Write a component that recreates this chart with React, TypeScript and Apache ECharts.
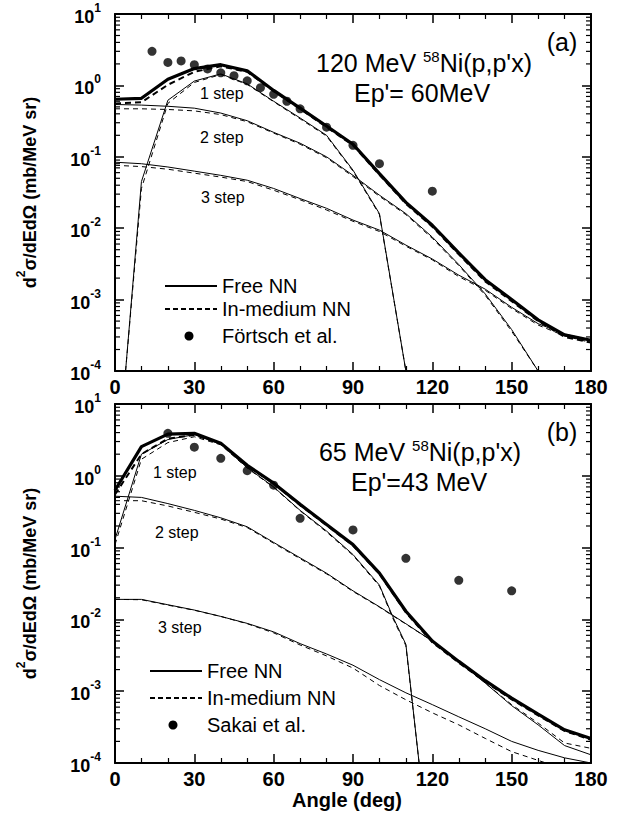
import React, { useEffect, useRef } from 'react';
import * as echarts from 'echarts';

const FONT = "'Liberation Sans', Arial, Helvetica, sans-serif";

// ---------- common ----------
const anglesFull = [0, 10, 20, 30, 40, 50, 60, 70, 80, 90, 100, 110, 120, 130, 140, 150, 160, 170, 180];
const xTickLabels = ['0', '30', '60', '90', '120', '150', '180'];
const minorMantissas = [2, 3, 4, 5, 6, 7, 8, 9];
const decades = [-4, -3, -2, -1, 0];

// ---------- panel (a): 120 MeV, Ep' = 60 MeV ----------
const totalFreeA = [0.64, 0.66, 1.22, 1.72, 1.95, 1.6, 0.85, 0.48, 0.27, 0.15, 0.058, 0.023, 0.011, 0.0045, 0.0019, 0.001, 0.00052, 0.00032, 0.00027];
const totalMedA = [0.56, 0.58, 1.02, 1.55, 1.85, 1.55, 0.83, 0.47, 0.26, 0.145, 0.056, 0.022, 0.0105, 0.0043, 0.0018, 0.00095, 0.0005, 0.0003, 0.00025];
const step1AnglesA = [4, 10, 20, 30, 40, 50, 60, 70, 80, 90, 100, 110];
const step1FreeA = [0.0001, 0.045, 0.62, 1.15, 1.45, 1.05, 0.6, 0.35, 0.2, 0.065, 0.016, 0.0001];
const step1MedA = [0.0001, 0.036, 0.56, 1.1, 1.42, 1.03, 0.59, 0.34, 0.195, 0.063, 0.0155, 0.0001];
const step2AnglesA = [0, 10, 20, 30, 40, 50, 60, 70, 80, 90, 100, 110, 120, 130, 140, 150, 160];
const step2FreeA = [0.54, 0.53, 0.51, 0.48, 0.41, 0.32, 0.22, 0.155, 0.1, 0.055, 0.029, 0.016, 0.0075, 0.0031, 0.0012, 0.00038, 0.0001];
const step2MedA = [0.47, 0.47, 0.46, 0.44, 0.39, 0.31, 0.215, 0.15, 0.097, 0.053, 0.028, 0.0155, 0.0072, 0.003, 0.00115, 0.00036, 0.0001];
const step3FreeA = [0.084, 0.08, 0.072, 0.063, 0.055, 0.047, 0.036, 0.026, 0.019, 0.013, 0.0094, 0.0058, 0.0037, 0.0022, 0.0014, 0.00078, 0.00046, 0.00033, 0.00027];
const step3MedA = [0.076, 0.073, 0.067, 0.059, 0.052, 0.045, 0.034, 0.025, 0.018, 0.0125, 0.009, 0.0056, 0.0036, 0.0021, 0.00135, 0.00075, 0.00044, 0.00031, 0.00025];
const fortschAngles = [14, 20, 25, 30, 35, 40, 45, 50, 55, 60, 65, 70, 80, 90, 100, 120];
const fortschValues = [3.0, 2.1, 2.2, 1.95, 1.7, 1.5, 1.37, 1.16, 0.93, 0.75, 0.6, 0.47, 0.26, 0.145, 0.08, 0.033];

// ---------- panel (b): 65 MeV, Ep' = 43 MeV ----------
const totalFreeB = [0.63, 2.55, 3.8, 3.9, 2.85, 1.4, 0.79, 0.4, 0.21, 0.11, 0.044, 0.013, 0.005, 0.0026, 0.0014, 0.0008, 0.00048, 0.00029, 0.00022];
const totalMedB = [0.55, 2.0, 3.3, 3.7, 2.8, 1.38, 0.78, 0.39, 0.205, 0.107, 0.043, 0.0125, 0.0048, 0.0025, 0.00135, 0.00077, 0.00046, 0.00028, 0.00021];
const step1AnglesB = [0, 10, 20, 30, 40, 50, 60, 70, 80, 90, 100, 105, 110, 115];
const step1FreeB = [0.13, 2.0, 3.2, 3.75, 2.75, 1.3, 0.7, 0.33, 0.17, 0.08, 0.03, 0.011, 0.0045, 0.0001];
const step1MedB = [0.11, 1.7, 2.9, 3.5, 2.7, 1.28, 0.69, 0.325, 0.165, 0.078, 0.029, 0.0105, 0.0043, 0.0001];
const step2FreeB = [0.52, 0.5, 0.41, 0.33, 0.26, 0.195, 0.118, 0.072, 0.044, 0.025, 0.015, 0.0087, 0.005, 0.0026, 0.0013, 0.00063, 0.00034, 0.000175, 0.00013];
const step2MedB = [0.45, 0.45, 0.38, 0.31, 0.25, 0.19, 0.115, 0.07, 0.043, 0.0245, 0.0148, 0.0086, 0.005, 0.0026, 0.0013, 0.00065, 0.00036, 0.00019, 0.00016];
const step3FreeB = [0.019, 0.019, 0.016, 0.0135, 0.011, 0.0088, 0.0067, 0.0046, 0.0033, 0.0023, 0.00145, 0.00095, 0.00065, 0.00044, 0.0003, 0.0002, 0.00015, 0.000118, 0.0001];
const step3MedAnglesB = [0, 10, 20, 30, 40, 50, 60, 70, 80, 90, 100, 110, 120, 130, 140, 150, 163];
const step3MedB = [0.019, 0.0188, 0.0158, 0.0134, 0.011, 0.0087, 0.0065, 0.0044, 0.0031, 0.0021, 0.0012, 0.00076, 0.0005, 0.00034, 0.00022, 0.000144, 0.0001];
const sakaiAngles = [20, 30, 40, 50, 60, 70, 90, 110, 130, 150];
const sakaiValues = [3.9, 2.5, 1.75, 1.18, 0.74, 0.256, 0.176, 0.071, 0.035, 0.025];

const pairs = (xs: number[], ys: number[]) => xs.map((x, i) => [x, ys[i]]);

const yRich = {
  b: { fontSize: 18, fontWeight: 'bold', fontFamily: FONT, color: '#000', lineHeight: 24, verticalAlign: 'bottom' },
  s: { fontSize: 12, fontWeight: 'bold', fontFamily: FONT, color: '#000', verticalAlign: 'top' },
};

const nameRich = {
  n: { fontSize: 18, fontWeight: 'bold', fontFamily: FONT, color: '#000', lineHeight: 24, verticalAlign: 'bottom' },
  s: { fontSize: 12, fontWeight: 'bold', fontFamily: FONT, color: '#000', verticalAlign: 'top' },
};

const titleRich = {
  n: { fontSize: 25, fontFamily: FONT, color: '#000', lineHeight: 27, verticalAlign: 'bottom' },
  s: { fontSize: 15, fontFamily: FONT, color: '#000', verticalAlign: 'top' },
};

function buildOption() {
  const grids = [
    { left: 115, top: 14, width: 476, height: 357 },
    { left: 115, top: 404, width: 476, height: 359 },
  ];

  const xAxes: any[] = [];
  const yAxes: any[] = [];
  [0, 1].forEach((g) => {
    const base = {
      gridIndex: g,
      type: 'value',
      min: 0,
      max: 180,
      interval: 30,
      axisLine: { show: true, onZero: false, lineStyle: { color: '#000', width: 2 } },
      axisTick: { show: true, inside: true, length: 9, lineStyle: { color: '#000', width: 1.5 } },
      minorTick: { show: true, splitNumber: 3, length: 5, lineStyle: { color: '#000', width: 1.2 } },
      splitLine: { show: false },
      minorSplitLine: { show: false },
    };
    xAxes.push({
      ...base,
      position: 'bottom',
      axisLabel: {
        show: true,
        margin: 6,
        fontSize: 20,
        fontWeight: 'bold',
        fontFamily: FONT,
        color: '#000',
        formatter: (v: number) => xTickLabels[Math.round(v / 30)] ?? String(v),
      },
      ...(g === 1
        ? {
            name: 'Angle (deg)',
            nameLocation: 'middle',
            nameGap: 27,
            nameTextStyle: { fontSize: 20, fontWeight: 'bold', fontFamily: FONT, color: '#000', padding: [0, 12, 0, 0] },
          }
        : {}),
    });
    xAxes.push({ ...base, position: 'top', axisLabel: { show: false } });

    const ybase = {
      gridIndex: g,
      type: 'log',
      logBase: 10,
      min: 0.0001,
      max: 10,
      axisLine: { show: true, onZero: false, lineStyle: { color: '#000', width: 2 } },
      axisTick: { show: true, inside: true, length: 9, lineStyle: { color: '#000', width: 1.5 } },
      minorTick: { show: false },
      splitLine: { show: false },
      minorSplitLine: { show: false },
    };
    yAxes.push({
      ...ybase,
      position: 'left',
      axisLabel: {
        show: true,
        margin: 14,
        formatter: (v: number) => `{b|10}{s|${Math.round(Math.log10(v))}}`,
        rich: yRich,
      },
      name: '{n|d}{s|2}{n|σ/dEdΩ (mb/MeV sr)}',
      nameLocation: 'middle',
      nameRotate: 90,
      nameGap: 76,
      nameTextStyle: { rich: nameRich },
    });
    yAxes.push({ ...ybase, position: 'right', axisLabel: { show: false } });
  });

  const minorData: number[][] = [];
  decades.forEach((e) => minorMantissas.forEach((m) => minorData.push([0, m * Math.pow(10, e)])));

  const minorTickSeries = (g: number) => ({
    type: 'custom',
    xAxisIndex: g * 2,
    yAxisIndex: g * 2,
    silent: true,
    clip: false,
    data: minorData,
    encode: { x: 0, y: 1 },
    renderItem: (_p: any, api: any) => {
      const v = api.value(1);
      const l = api.coord([0, v]);
      const r = api.coord([180, v]);
      return {
        type: 'group',
        children: [
          { type: 'line', shape: { x1: l[0], y1: l[1], x2: l[0] + 5, y2: l[1] }, style: { stroke: '#000', lineWidth: 1.2 } },
          { type: 'line', shape: { x1: r[0], y1: r[1], x2: r[0] - 5, y2: r[1] }, style: { stroke: '#000', lineWidth: 1.2 } },
        ],
      };
    },
  });

  const line = (name: string, g: number, xs: number[], ys: number[], width: number, dash: number[] | null) => ({
    type: 'line',
    name,
    xAxisIndex: g * 2,
    yAxisIndex: g * 2,
    data: pairs(xs, ys),
    symbol: 'none',
    silent: true,
    lineStyle: { color: '#000', width, type: dash ? dash : 'solid' },
    z: 3,
  });

  const dots = (name: string, g: number, xs: number[], ys: number[]) => ({
    type: 'scatter',
    name,
    xAxisIndex: g * 2,
    yAxisIndex: g * 2,
    data: pairs(xs, ys),
    symbol: 'circle',
    symbolSize: 9,
    itemStyle: { color: '#000' },
    silent: true,
    z: 5,
  });

  const thinDash = [5, 4];
  const thickDash = [6, 4];

  const series: any[] = [
    minorTickSeries(0),
    minorTickSeries(1),
    // panel a
    line('Free NN', 0, anglesFull, step3FreeA, 1, null),
    line('In-medium NN', 0, anglesFull, step3MedA, 1, thinDash),
    line('Free NN', 0, step2AnglesA, step2FreeA, 1, null),
    line('In-medium NN', 0, step2AnglesA, step2MedA, 1, thinDash),
    line('Free NN', 0, step1AnglesA, step1FreeA, 1, null),
    line('In-medium NN', 0, step1AnglesA, step1MedA, 1, thinDash),
    line('In-medium NN', 0, anglesFull, totalMedA, 2, thickDash),
    line('Free NN', 0, anglesFull, totalFreeA, 3.2, null),
    dots('Förtsch et al.', 0, fortschAngles, fortschValues),
    // panel b
    line('Free NN', 1, anglesFull, step3FreeB, 1, null),
    line('In-medium NN', 1, step3MedAnglesB, step3MedB, 1, thinDash),
    line('Free NN', 1, anglesFull, step2FreeB, 1, null),
    line('In-medium NN', 1, anglesFull, step2MedB, 1, thinDash),
    line('Free NN', 1, step1AnglesB, step1FreeB, 1, null),
    line('In-medium NN', 1, step1AnglesB, step1MedB, 1, thinDash),
    line('In-medium NN', 1, anglesFull, totalMedB, 2, thickDash),
    line('Free NN', 1, anglesFull, totalFreeB, 3.2, null),
    dots('Sakai et al.', 1, sakaiAngles, sakaiValues),
  ];

  const txt = (text: string, x: number, y: number, size: number, align = 'left', rich?: any) => ({
    type: 'text',
    x,
    y,
    silent: true,
    style: {
      text,
      fill: '#000',
      fontSize: size,
      fontFamily: FONT,
      align,
      textAlign: align,
      verticalAlign: 'middle',
      textVerticalAlign: 'middle',
      ...(rich ? { rich } : {}),
    },
  });

  const legendLine = (x1: number, x2: number, y: number, dash: number[] | null) => ({
    type: 'line',
    silent: true,
    shape: { x1, y1: y, x2, y2: y },
    style: { stroke: '#000', lineWidth: 2, lineDash: dash || undefined },
  });

  const legendDot = (cx: number, cy: number) => ({
    type: 'circle',
    silent: true,
    shape: { cx, cy, r: 4.5 },
    style: { fill: '#000' },
  });

  const graphic: any[] = [
    // panel a annotations
    txt("{n|120 MeV }{s|58}{n|Ni(p,p'x)}", 424, 62, 25, 'center', titleRich),
    txt("Ep'= 60MeV", 422, 93, 25, 'center'),
    txt('(a)', 562, 42, 25, 'center'),
    txt('1 step', 200, 93, 16),
    txt('2 step', 200, 137, 16),
    txt('3 step', 201, 197, 16),
    legendLine(165, 217, 286, null),
    legendLine(165, 217, 309, [5, 3]),
    legendDot(189, 336),
    txt('Free NN', 222, 286, 20),
    txt('In-medium NN', 222, 309, 20),
    txt('Förtsch et al.', 222, 336, 20),
    // panel b annotations
    txt("{n|65 MeV }{s|58}{n|Ni(p,p'x)}", 420, 451, 25, 'center', titleRich),
    txt("Ep'=43 MeV", 419, 482, 25, 'center'),
    txt('(b)', 562, 432, 25, 'center'),
    txt('1 step', 153, 472, 16),
    txt('2 step', 155, 532, 16),
    txt('3 step', 158, 627, 16),
    legendLine(150, 202, 671, null),
    legendLine(150, 202, 698, [5, 3]),
    legendDot(173, 725),
    txt('Free NN', 207, 671, 20),
    txt('In-medium NN', 207, 698, 20),
    txt('Sakai et al.', 207, 725, 20),
  ];

  return {
    animation: false,
    backgroundColor: '#fff',
    textStyle: { fontFamily: FONT },
    grid: grids.map((g) => ({ ...g, containLabel: false, outerBoundsMode: 'none' })),
    xAxis: xAxes,
    yAxis: yAxes,
    series,
    graphic,
  };
}

export default function App() {
  const ref = useRef<HTMLDivElement>(null);
  useEffect(() => {
    if (!ref.current) return;
    const chart = echarts.init(ref.current, undefined, { renderer: 'svg' });
    chart.setOption(buildOption() as any);
    return () => chart.dispose();
  }, []);
  return (
    <div
      ref={ref}
      style={{ position: 'absolute', left: 0, top: 0, width: 624, height: 814, background: '#fff' }}
    />
  );
}
